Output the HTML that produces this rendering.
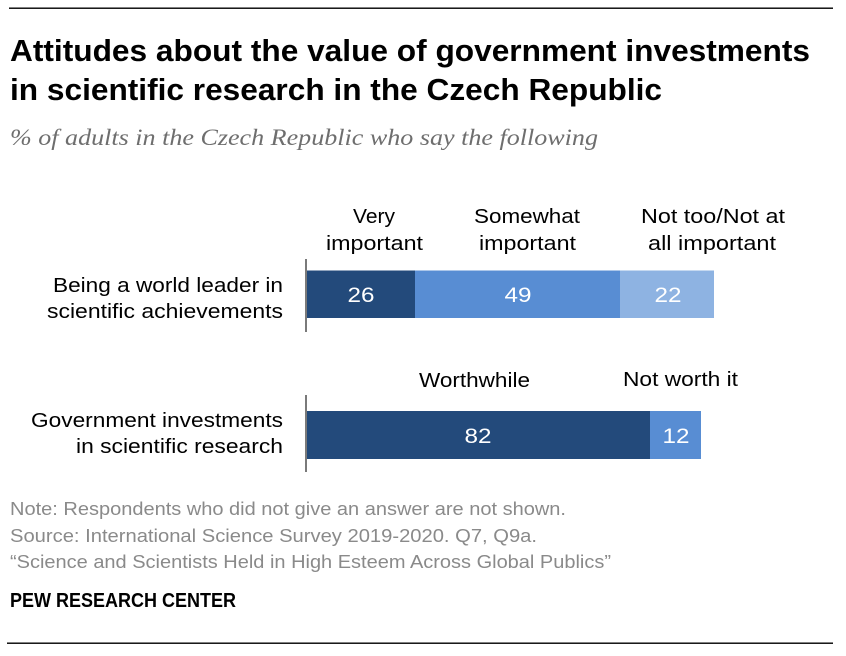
<!DOCTYPE html>
<html>
<head>
<meta charset="utf-8">
<style>
  html, body { margin: 0; padding: 0; background: #ffffff; }
  body { width: 846px; height: 656px; overflow: hidden; }
  svg { display: block; }
  .t { font-family: "Liberation Sans", "DejaVu Sans", sans-serif; }
</style>
</head>
<body>
<svg width="846" height="656" viewBox="0 0 846 656" xmlns="http://www.w3.org/2000/svg">
  <rect x="0" y="0" width="846" height="656" fill="#ffffff"/>

  <!-- top rule -->
  <rect x="9" y="7.5" width="824" height="1.4" fill="#000"/>

  <!-- title -->
  <text class="t" x="10" y="61" font-size="31" font-weight="bold" fill="#000" textLength="800" lengthAdjust="spacingAndGlyphs">Attitudes about the value of government investments</text>
  <text class="t" x="10" y="100" font-size="31" font-weight="bold" fill="#000" textLength="652" lengthAdjust="spacingAndGlyphs">in scientific research in the Czech Republic</text>

  <!-- subtitle -->
  <text x="10" y="145" font-family="Liberation Serif, DejaVu Serif, serif" font-style="italic" font-size="23" fill="#6e6e6e" textLength="588" lengthAdjust="spacingAndGlyphs">% of adults in the Czech Republic who say the following</text>

  <!-- column headers -->
  <g class="t" font-size="20" fill="#000">
    <text x="353" y="223" textLength="42" lengthAdjust="spacingAndGlyphs">Very</text>
    <text x="326" y="250" textLength="97" lengthAdjust="spacingAndGlyphs">important</text>
    <text x="474" y="223" textLength="106" lengthAdjust="spacingAndGlyphs">Somewhat</text>
    <text x="479" y="250" textLength="97" lengthAdjust="spacingAndGlyphs">important</text>
    <text x="641" y="223" textLength="144" lengthAdjust="spacingAndGlyphs">Not too/Not at</text>
    <text x="648" y="250" textLength="128" lengthAdjust="spacingAndGlyphs">all important</text>

    <text x="419" y="387" textLength="111" lengthAdjust="spacingAndGlyphs">Worthwhile</text>
    <text x="623" y="386" textLength="115" lengthAdjust="spacingAndGlyphs">Not worth it</text>
  </g>

  <!-- category labels -->
  <g class="t" font-size="20" fill="#000" text-anchor="end">
    <text x="283" y="292" textLength="230" lengthAdjust="spacingAndGlyphs">Being a world leader in</text>
    <text x="283" y="318" textLength="236" lengthAdjust="spacingAndGlyphs">scientific achievements</text>
    <text x="283" y="427" textLength="252" lengthAdjust="spacingAndGlyphs">Government investments</text>
    <text x="283" y="453" textLength="207" lengthAdjust="spacingAndGlyphs">in scientific research</text>
  </g>

  <!-- bar 1 -->
  <rect x="306" y="270.5" width="109" height="47.5" fill="#234A7B"/>
  <rect x="415" y="270.5" width="205" height="47.5" fill="#588DD3"/>
  <rect x="620" y="270.5" width="94" height="47.5" fill="#8EB3E2"/>

  <!-- bar 2 -->
  <rect x="306" y="411" width="344" height="48" fill="#234A7B"/>
  <rect x="650" y="411" width="51" height="48" fill="#588DD3"/>

  <!-- axis lines -->
  <rect x="305" y="259" width="2" height="73" fill="#7a7a7a"/>
  <rect x="305" y="395" width="2" height="77" fill="#7a7a7a"/>

  <!-- value labels -->
  <g class="t" font-size="21" fill="#ffffff" text-anchor="middle">
    <text x="361" y="302" textLength="27" lengthAdjust="spacingAndGlyphs">26</text>
    <text x="518" y="302" textLength="27" lengthAdjust="spacingAndGlyphs">49</text>
    <text x="668" y="302" textLength="27" lengthAdjust="spacingAndGlyphs">22</text>
    <text x="478" y="443" textLength="27" lengthAdjust="spacingAndGlyphs">82</text>
    <text x="676" y="443" textLength="27" lengthAdjust="spacingAndGlyphs">12</text>
  </g>

  <!-- footer -->
  <g class="t" font-size="18.5" fill="#8a8a8a">
    <text x="10" y="515" textLength="556" lengthAdjust="spacingAndGlyphs">Note: Respondents who did not give an answer are not shown.</text>
    <text x="10" y="542" textLength="527" lengthAdjust="spacingAndGlyphs">Source: International Science Survey 2019-2020. Q7, Q9a.</text>
    <text x="10" y="568" textLength="601" lengthAdjust="spacingAndGlyphs">“Science and Scientists Held in High Esteem Across Global Publics”</text>
  </g>
  <text class="t" x="10" y="607" font-size="20" font-weight="bold" fill="#000" textLength="226" lengthAdjust="spacingAndGlyphs">PEW RESEARCH CENTER</text>

  <!-- bottom rule -->
  <rect x="7" y="642.5" width="826" height="1.4" fill="#000"/>
</svg>
</body>
</html>
